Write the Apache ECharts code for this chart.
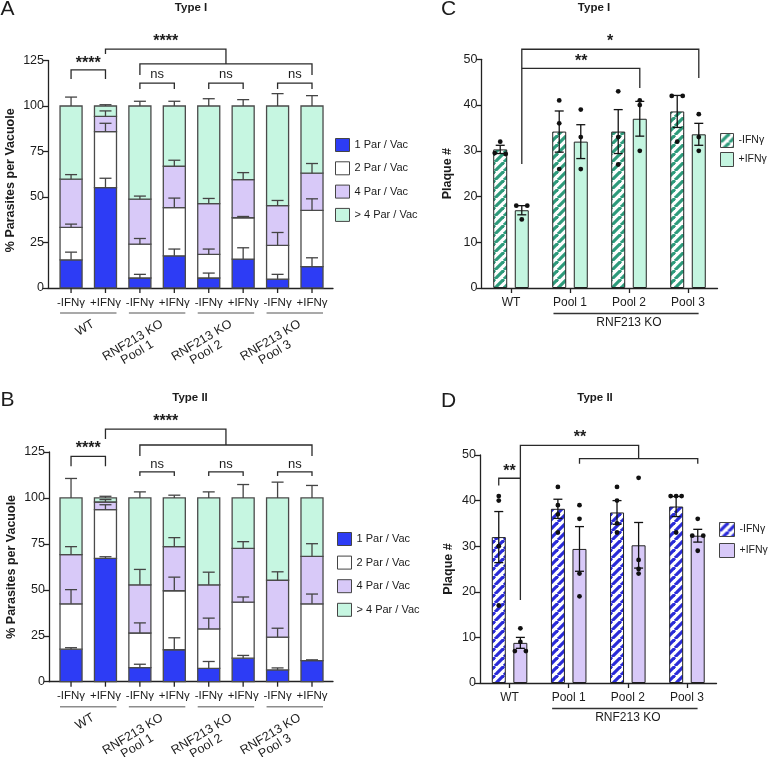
<!DOCTYPE html>
<html><head><meta charset="utf-8">
<script src="https://cdn.jsdelivr.net/npm/echarts@6/dist/echarts.min.js"></script>
<style>html,body{margin:0;padding:0;background:#fff}#c{width:768px;height:757px}</style>
</head><body><div id="c"></div>
<script>
// ================= DATA =================
const stackCats = ['-IFNγ','+IFNγ','-IFNγ','+IFNγ','-IFNγ','+IFNγ','-IFNγ','+IFNγ'];
const stackGroups = ['WT','RNF213 KO\nPool 1','RNF213 KO\nPool 2','RNF213 KO\nPool 3'];
const segNames = ['1 Par / Vac','2 Par / Vac','4 Par / Vac','> 4 Par / Vac'];

// Panel A — Type I (% of vacuoles, per category of parasites/vacuole)
const a1Par   = [15.5,55.2, 5.5,17.7, 5.5,15.9, 4.9,11.7];
const a2Par   = [17.8,30.7,18.6,26.5,13.0,22.7,18.5,30.9];
const a4Par   = [26.5, 8.4,24.7,22.7,27.9,21.0,21.9,20.5];
const aGt4Par = [40.2, 5.7,51.2,33.1,53.6,40.4,54.7,36.9];
const a1ParErr   = [4.2,5.1,2.0,3.7,2.7,6.2,2.6,4.9];
const a2ParErr   = [1.8,4.6,3.1,5.2,2.9,0.7,7.1,6.4];
const a4ParErr   = [2.5,3.0,1.7,3.3,2.8,3.8,2.8,5.3];
const aGt4ParErr = [4.9,0.7,2.6,2.6,4.0,3.5,6.8,5.7];

// Panel B — Type II
const b1Par   = [17.7,67.1, 7.7,17.4, 7.3,12.8, 6.4,11.5];
const b2Par   = [24.7,26.5,18.8,32.1,21.4,30.5,17.9,30.9];
const b4Par   = [26.7, 4.2,26.2,24.0,24.0,29.3,30.9,25.8];
const bGt4Par = [30.9, 2.2,47.3,26.5,47.3,27.4,44.8,31.8];
const b1ParErr   = [0.8,0.9,1.8,6.5,3.7,1.5,1.1,0.4];
const b2ParErr   = [7.7,2.7,5.5,7.4,5.9,2.8,4.8,5.3];
const b4ParErr   = [4.4,1.3,8.4,4.9,6.9,3.6,4.6,6.9];
const bGt4ParErr = [10.6,0.9,3.3,1.5,3.3,7.3,8.6,6.8];

// Panels C / D — plaque numbers
const plaqueCats = ['WT','Pool 1','Pool 2','Pool 3'];
const cMinusMean = [30.3,34.2,34.2,38.6];
const cMinusSem  = [0.9,4.5,4.8,3.5];
const cPlusMean  = [17.0,32.0,37.0,33.6];
const cPlusSem   = [1.0,3.7,3.8,2.4];
const cMinusPts  = [[32,29.5,29.3],[41,36,26],[43,33,27],[42,42,32]];
const cPlusPts   = [[18,18,15],[39,33,26],[41,40,30],[38,33,30]];

const dMinusMean = [32.0,38.2,37.4,38.7];
const dMinusSem  = [5.6,2.1,2.6,2.2];
const dPlusMean  = [8.8,29.4,30.2,32.3];
const dPlusSem   = [1.2,4.9,5.0,1.4];
const dMinusPts  = [[41,40,30,17],[43,39,37,33],[43,40,35,33],[41,41,41,33]];
const dPlusPts   = [[12,9,7,7],[39,36,24,19],[45,27,25,24],[36,32.3,32.3,29]];

// Significance annotations (data units: [x, y])
const sigA = [
  {path:[[0,114.8],[0,119.8],[1,119.8],[1,114.8]], text:'****', at:[0.5,125.3]},
  {path:[[2,109.3],[2,112.6],[3,112.6],[3,109.3]], text:'ns', at:[2.5,116.5]},
  {path:[[4,109.3],[4,112.6],[5,112.6],[5,109.3]], text:'ns', at:[4.5,116.5]},
  {path:[[6,109.3],[6,112.6],[7,112.6],[7,109.3]], text:'ns', at:[6.5,116.5]},
  {path:[[2,117.0],[2,123.1],[7,123.1],[7,117.0]]},
  {path:[[1,128.6],[1,131.3],[4.5,131.3],[4.5,123.1]], text:'****', at:[2.75,137.2]}
];
const sigB = [
  {path:[[0,117.3],[0,122.6],[1,122.6],[1,117.3]], text:'****', at:[0.5,128.8]},
  {path:[[2,112.0],[2,114.2],[3,114.2],[3,112.0]], text:'ns', at:[2.5,117.6]},
  {path:[[4,112.0],[4,114.2],[5,114.2],[5,112.0]], text:'ns', at:[4.5,117.6]},
  {path:[[6,112.0],[6,114.2],[7,114.2],[7,112.0]], text:'ns', at:[6.5,117.6]},
  {path:[[2,122.8],[2,128.8],[7,128.8],[7,122.8]]},
  {path:[[1,132.1],[1,137.5],[4.5,137.5],[4.5,128.8]], text:'****', at:[2.75,143.2]}
];
const sigC = [
  {path:[[0.183,27.1],[0.183,52.2],[3.183,52.2],[3.183,45.9]], text:'*', at:[1.68,54.6]},
  {path:[[0.183,48.0],[2.183,48.0],[2.183,43.7]], text:'**', at:[1.19,50.3]}
];
const sigD = [
  {path:[[-0.183,43.3],[-0.183,44.9],[0.183,44.9]], text:'**', at:[0,47.2]},
  {path:[[0.183,18.2],[0.183,52.1],[2.183,52.1],[2.183,49.2]], text:'**', at:[1.19,54.5]},
  {path:[[1.183,48.1],[1.183,49.2],[3.183,49.2],[3.183,48.1]]}
];
const koSpan = [0.72, 3.18];
const koLabel = 'RNF213 KO';

// ================= STYLE / HELPERS =================
const F = '"Liberation Sans", Arial, Helvetica, sans-serif';
const INK = '#1c1c1c';
const AX = '#222';
const segColors = ['#2d3cf5','#ffffff','#d8c9f8','#c6f6e1'];
const mctx = document.createElement('canvas').getContext('2d');
function measure(t, font){ mctx.font = font; return mctx.measureText(t).width; }
function txt(text, x, y, font, extra){
  return Object.assign({type:'text', style:{text, x, y, font, fill:INK, align:'center', verticalAlign:'middle', textAlign:'center', textVerticalAlign:'middle'}}, extra||{});
}
function toPx(api, x, y){
  const i = Math.round(x);
  const p = api.coord([i, y]);
  const band = api.size([1, 0])[0];
  return [p[0] + (x - i) * band, p[1]];
}
function makeStripe(color){
  const c = document.createElement('canvas'); c.width = 9; c.height = 9;
  const g = c.getContext('2d');
  g.fillStyle = '#fff'; g.fillRect(0,0,9,9);
  g.strokeStyle = color; g.lineWidth = 3.2;
  for (const k of [-9,0,9]) { g.beginPath(); g.moveTo(k,9); g.lineTo(k+9,0); g.stroke(); }
  return c;
}

function yAx(gi, max, interval, name, nameGap, namePad){
  return {type:'value', gridIndex:gi, min:0, max, interval, name, nameLocation:'middle', nameGap, nameRotate:90,
    nameTextStyle:{fontWeight:'bold', fontSize:12.5, color:INK, fontFamily:F, padding:namePad||0},
    axisLine:{show:true, onZero:false, lineStyle:{color:AX, width:1.3}},
    axisTick:{show:true, length:5, lineStyle:{color:AX, width:1.3}},
    axisLabel:{fontSize:12.5, color:INK, margin:4, fontFamily:F},
    splitLine:{show:false}};
}
function stackX(gi, min, max){
  return {type:'value', gridIndex:gi, min, max, axisLine:{show:true, onZero:false, lineStyle:{color:AX, width:1.3}},
    axisTick:{show:false}, axisLabel:{show:false}, splitLine:{show:false}};
}
function catX(gi){
  return {type:'category', gridIndex:gi, data:plaqueCats,
    axisLine:{show:true, onZero:false, lineStyle:{color:AX, width:1.3}},
    axisTick:{show:true, alignWithLabel:true, length:5, lineStyle:{color:AX, width:1.3}},
    axisLabel:{fontSize:12, color:INK, margin:9, fontFamily:F}, splitLine:{show:false}};
}

function stackedSeries(gi, segs, errs){
  const out = [];
  const cum = segs.map((seg, s) => seg.map((v, i) => { let b = 0; for (let k = 0; k < s; k++) b += segs[k][i]; return [b, b + v]; }));
  segs.forEach((seg, s) => {
    out.push({type:'custom', name:segNames[s], xAxisIndex:gi, yAxisIndex:gi, z:2, silent:true,
      itemStyle:{color:segColors[s], borderColor:'#4a4a4a', borderWidth:1},
      data: seg.map((v, i) => [i, cum[s][i][0], cum[s][i][1]]),
      renderItem(params, api){
        const x = api.value(0);
        const p0 = api.coord([x, api.value(1)]), p1 = api.coord([x, api.value(2)]);
        const w = api.size([0.64, 0])[0];
        return {type:'rect', shape:{x:p0[0]-w/2, y:p1[1], width:w, height:p0[1]-p1[1]},
          style:{fill:segColors[s], stroke:'#4a4a4a', lineWidth:1.3}};
      }});
  });
  const errData = [];
  segs.forEach((seg, s) => seg.forEach((v, i) => errData.push([i, cum[s][i][1], cum[s][i][1] + errs[s][i]])));
  out.push({type:'custom', xAxisIndex:gi, yAxisIndex:gi, z:3, silent:true, data:errData,
    renderItem(params, api){
      const x = api.value(0);
      const p0 = api.coord([x, api.value(1)]), p1 = api.coord([x, api.value(2)]);
      return {type:'group', children:[
        {type:'line', shape:{x1:p0[0], y1:p0[1], x2:p1[0], y2:p1[1]}, style:{stroke:'#444', lineWidth:1.3}},
        {type:'line', shape:{x1:p1[0]-6, y1:p1[1], x2:p1[0]+6, y2:p1[1]}, style:{stroke:'#444', lineWidth:1.3}}
      ]};
    }});
  // axis decorations: ticks, condition labels, group lines, rotated group labels
  out.push({type:'custom', xAxisIndex:gi, yAxisIndex:gi, z:5, silent:true, data:[[0,0]],
    renderItem(params, api){
      const ch = [];
      const hw = api.size([0.64, 0])[0] / 2;
      stackCats.forEach((lab, i) => {
        const p = api.coord([i, 0]);
        ch.push({type:'line', shape:{x1:p[0], y1:p[1], x2:p[0], y2:p[1]+5}, style:{stroke:AX, lineWidth:1.3}});
        ch.push(txt(lab, p[0], p[1]+14.5, '11.5px '+F));
      });
      const th = 31 * Math.PI / 180;
      const d = [Math.cos(th), -Math.sin(th)], n = [Math.sin(th), Math.cos(th)];
      const gf = '12.5px ' + F;
      stackGroups.forEach((g, k) => {
        const a = api.coord([2*k, 0]), b = api.coord([2*k+1, 0]);
        const ly = a[1] + 25;
        ch.push({type:'line', shape:{x1:a[0]-hw, y1:ly, x2:b[0]+hw, y2:ly}, style:{stroke:'#8c8c8c', lineWidth:1.6}});
        const gc = (a[0] + b[0]) / 2;
        const lines = g.split('\n');
        const P = [gc + 5, a[1] + 35];
        const w1 = measure(lines[0], gf);
        const c1 = [P[0] - d[0]*w1/2, P[1] - d[1]*w1/2];
        lines.forEach((ln, j) => {
          const t = txt(ln, 0, 0, gf);
          t.x = c1[0] + n[0]*12.5*j - d[0]*2.5*j; t.y = c1[1] + n[1]*12.5*j - d[1]*2.5*j; t.rotation = th;
          ch.push(t);
        });
      });
      return {type:'group', children:ch};
    }});
  return out;
}

function sigSeries(gi, list){
  return {type:'custom', xAxisIndex:gi, yAxisIndex:gi, z:6, silent:true, data:[[0,0]],
    renderItem(params, api){
      const ch = [];
      list.forEach(b => {
        if (b.path) ch.push({type:'polyline', shape:{points:b.path.map(q => toPx(api, q[0], q[1]))}, style:{stroke:'#2a2a2a', lineWidth:1.3, fill:'none'}});
        if (b.text) {
          const p = toPx(api, b.at[0], b.at[1]);
          const star = b.text.indexOf('*') >= 0;
          const fs = star ? 16 : 13;
          ch.push(txt(b.text, p[0], p[1] + (star ? 0.22*fs : -0.09*fs), (star ? 'bold ' : '') + fs + 'px ' + F));
        }
      });
      return {type:'group', children:ch};
    }};
}

function plaqueSeries(gi, mMean, mSem, pMean, pSem, mPts, pPts, stripe, fill, suffix){
  const out = [];
  out.push({type:'bar', name:'-IFNγ'+suffix, xAxisIndex:gi, yAxisIndex:gi, data:mMean, barWidth:14, barGap:'54%', z:2, silent:true,
    itemStyle:{color:{image:makeStripe(stripe), repeat:'repeat'}, borderColor:'#222', borderWidth:1}});
  out.push({type:'bar', name:'+IFNγ'+suffix, xAxisIndex:gi, yAxisIndex:gi, data:pMean, barWidth:14, barGap:'54%', z:2, silent:true,
    itemStyle:{color:fill, borderColor:'#222', borderWidth:1}});
  const dots = [];
  [[mPts,-1],[pPts,1]].forEach(([pts, side]) => pts.forEach((arr, i) => arr.forEach((v, k) => {
    const same = arr.filter(u => Math.abs(u - v) < 0.3);
    const rank = arr.slice(0, k).filter(u => Math.abs(u - v) < 0.3).length;
    dots.push([i, v, side, rank, same.length]);
  })));
  out.push({type:'custom', xAxisIndex:gi, yAxisIndex:gi, z:4, silent:true, data:dots,
    renderItem(params, api){
      const i = api.value(0), v = api.value(1), side = api.value(2), rank = api.value(3), cnt = api.value(4);
      const p = api.coord([i, v]);
      const band = api.size([1, 0])[0];
      let x = p[0] + side * 0.1827 * band;
      if (cnt > 1) x += (rank - (cnt - 1) / 2) * (11 / (cnt - 1));
      return {type:'circle', shape:{cx:x, cy:p[1], r:2.4}, style:{fill:'#111'}};
    }});
  const errs = [];
  mMean.forEach((m, i) => errs.push([i, m, mSem[i], -1]));
  pMean.forEach((m, i) => errs.push([i, m, pSem[i], 1]));
  out.push({type:'custom', xAxisIndex:gi, yAxisIndex:gi, z:5, silent:true, data:errs,
    renderItem(params, api){
      const i = api.value(0), m = api.value(1), s = api.value(2), side = api.value(3);
      const band = api.size([1, 0])[0];
      const pt = api.coord([i, m + s]), pb = api.coord([i, m - s]);
      const x = pt[0] + side * 0.1827 * band;
      const st = {stroke:'#111', lineWidth:1.3};
      return {type:'group', children:[
        {type:'line', shape:{x1:x, y1:pt[1], x2:x, y2:pb[1]}, style:st},
        {type:'line', shape:{x1:x-4.5, y1:pt[1], x2:x+4.5, y2:pt[1]}, style:st},
        {type:'line', shape:{x1:x-4.5, y1:pb[1], x2:x+4.5, y2:pb[1]}, style:st}
      ]};
    }});
  out.push({type:'custom', xAxisIndex:gi, yAxisIndex:gi, z:5, silent:true, data:[[0,0]],
    renderItem(params, api){
      const a = toPx(api, koSpan[0], 0), b = toPx(api, koSpan[1], 0), c = toPx(api, 2.0, 0);
      return {type:'group', children:[
        {type:'line', shape:{x1:a[0], y1:a[1]+25.5, x2:b[0], y2:b[1]+25.5}, style:{stroke:'#333', lineWidth:1.3}},
        txt(koLabel, c[0], c[1]+34.5, '12px '+F)
      ]};
    }});
  return out;
}

function legendCfg(data, left, top, iw, ih, gap, fs, fmt){
  const l = {data, orient:'vertical', left, top, itemWidth:iw, itemHeight:ih, itemGap:gap, icon:'rect', padding:0,
    selectedMode:false, itemStyle:{borderColor:'#444', borderWidth:1},
    textStyle:{fontSize:fs, color:INK, fontFamily:F}};
  if (fmt) l.formatter = fmt;
  return l;
}

const option = {
  animation:false,
  backgroundColor:'#fff',
  textStyle:{fontFamily:F},
  grid:[
    {left:48, top:60.5, width:285, height:227.5, outerBoundsMode:'none'},
    {left:49, top:452, width:284, height:229.7, outerBoundsMode:'none'},
    {left:481.5, top:59.3, width:236, height:228.7, outerBoundsMode:'none'},
    {left:480, top:455, width:236.5, height:228, outerBoundsMode:'none'}
  ],
  xAxis:[stackX(0,-0.67,7.61), stackX(1,-0.64,7.61), catX(2), catX(3)],
  yAxis:[yAx(0,125,25,'% Parasites per Vacuole',31,[0,12,0,0]), yAx(1,125,25,'% Parasites per Vacuole',31),
         yAx(2,50,10,'Plaque #',27), yAx(3,50,10,'Plaque #',25)],
  legend:[
    legendCfg(segNames, 335, 138, 14, 13, 9.3, 11),
    legendCfg(segNames, 337, 532, 14, 13, 9.6, 11),
    legendCfg(['-IFNγ','+IFNγ'], 720, 133, 13, 14, 4, 10.5),
    legendCfg(['-IFNγ D','+IFNγ D'], 719, 522, 15, 14, 6, 10.5, nm => nm.replace(/ D$/, ''))
  ],
  graphic:[
    txt('A', 7.5, 9, '21px '+F),
    txt('B', 7.5, 400, '21px '+F),
    txt('C', 448.5, 9, '21px '+F),
    txt('D', 448.5, 401, '21px '+F),
    txt('Type I', 191, 8, 'bold 11.5px '+F),
    txt('Type II', 190, 397.5, 'bold 11.5px '+F),
    txt('Type I', 594, 8, 'bold 11.5px '+F),
    txt('Type II', 595, 397.5, 'bold 11.5px '+F)
  ],
  series:[].concat(
    stackedSeries(0, [a1Par,a2Par,a4Par,aGt4Par], [a1ParErr,a2ParErr,a4ParErr,aGt4ParErr]),
    sigSeries(0, sigA),
    stackedSeries(1, [b1Par,b2Par,b4Par,bGt4Par], [b1ParErr,b2ParErr,b4ParErr,bGt4ParErr]),
    sigSeries(1, sigB),
    plaqueSeries(2, cMinusMean, cMinusSem, cPlusMean, cPlusSem, cMinusPts, cPlusPts, '#2e9b7b', '#c4f5e0', ''),
    sigSeries(2, sigC),
    plaqueSeries(3, dMinusMean, dMinusSem, dPlusMean, dPlusSem, dMinusPts, dPlusPts, '#2a2bd8', '#d8c9f8', ' D'),
    sigSeries(3, sigD)
  )
};
const chart = echarts.init(document.getElementById('c'), null, {renderer:'canvas'});
chart.setOption(option);
</script></body></html>
